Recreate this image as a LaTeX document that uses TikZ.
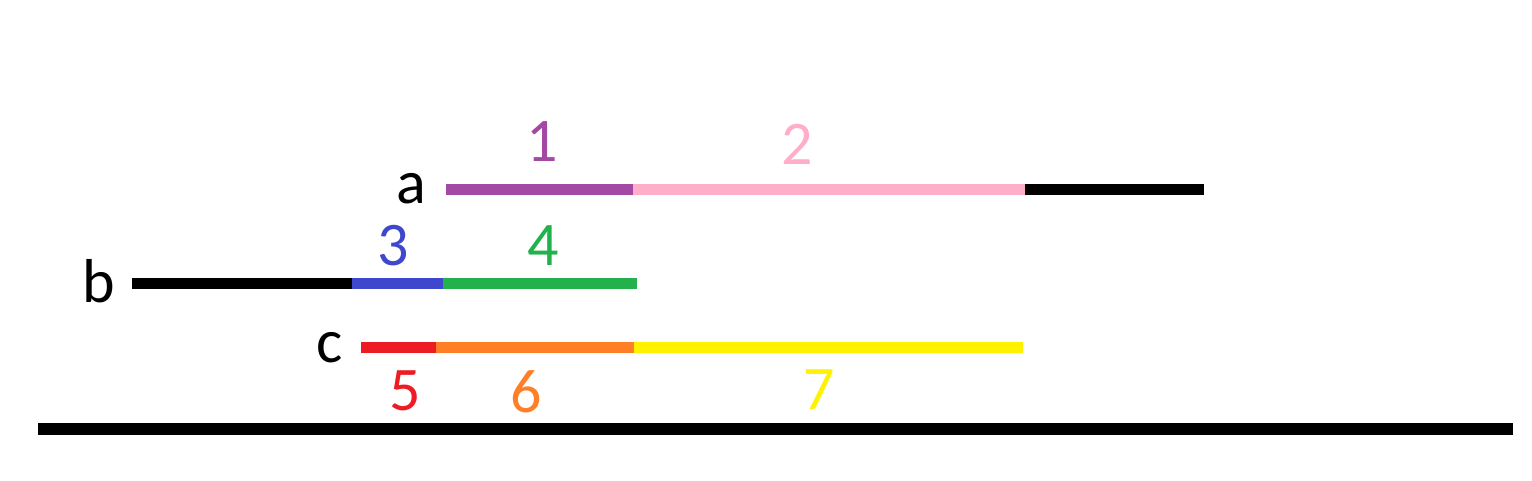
\documentclass[tikz,border=0pt]{standalone}
\usepackage{fontspec}
\setmainfont{Carlito}
\definecolor{cpurple}{HTML}{A349A4}
\definecolor{cpink}{HTML}{FFAEC9}
\definecolor{cblue}{HTML}{3F48CC}
\definecolor{cgreen}{HTML}{22B14C}
\definecolor{cred}{HTML}{ED1C24}
\definecolor{corange}{HTML}{FF7F27}
\definecolor{cyellow}{HTML}{FFF200}
\tikzset{
  seg/.style={line width=11pt, line cap=butt},
  lbl/.style={anchor=base, inner sep=0pt, font=\fontsize{62}{62}\selectfont},
}
\begin{document}
\begin{tikzpicture}[x=1pt,y=-1pt]
\useasboundingbox (0,0) rectangle (1532,480);
% line a
\coordinate (a0) at (446,189);
\coordinate (a1) at (633,189);
\coordinate (a2) at (1025,189);
\coordinate (a3) at (1204,189);
% line b
\coordinate (b0) at (132,283);
\coordinate (b1) at (352,283);
\coordinate (b2) at (443,283);
\coordinate (b3) at (637,283);
% line c
\coordinate (c0) at (361,347);
\coordinate (c1) at (436,347);
\coordinate (c2) at (634,347);
\coordinate (c3) at (1023,347);
% base line
\coordinate (g0) at (38,429);
\coordinate (g1) at (1513,429);

\draw[seg, black] (a2) -- (a3);
\draw[seg, cpink] (a1) -- (a2);
\draw[seg, cpurple] (a0) -- (a1);

\draw[seg, black] (b0) -- (b1);
\draw[seg, cblue] (b1) -- (b2);
\draw[seg, cgreen] (b2) -- (b3);

\draw[seg, cred] (c0) -- (c1);
\draw[seg, corange] (c1) -- (c2);
\draw[seg, cyellow] (c2) -- (c3);

\draw[line width=12pt, line cap=butt, black] (g0) -- (g1);

\node[lbl, black] (la) at (411,203) {a};
\node[lbl, black] (lb) at (99,302) {b};
\node[lbl, black] (lc) at (330,362) {c};
\node[lbl, cpurple] (n1) at (542,161) {1};
\node[lbl, cpink] (n2) at (797,164) {2};
\node[lbl, cblue] (n3) at (393,265) {3};
\node[lbl, cgreen] (n4) at (543,265) {4};
\node[lbl, cred] (n5) at (405,410) {5};
\node[lbl, corange] (n6) at (526,412) {6};
\node[lbl, cyellow] (n7) at (819,409) {7};
\end{tikzpicture}
\end{document}
